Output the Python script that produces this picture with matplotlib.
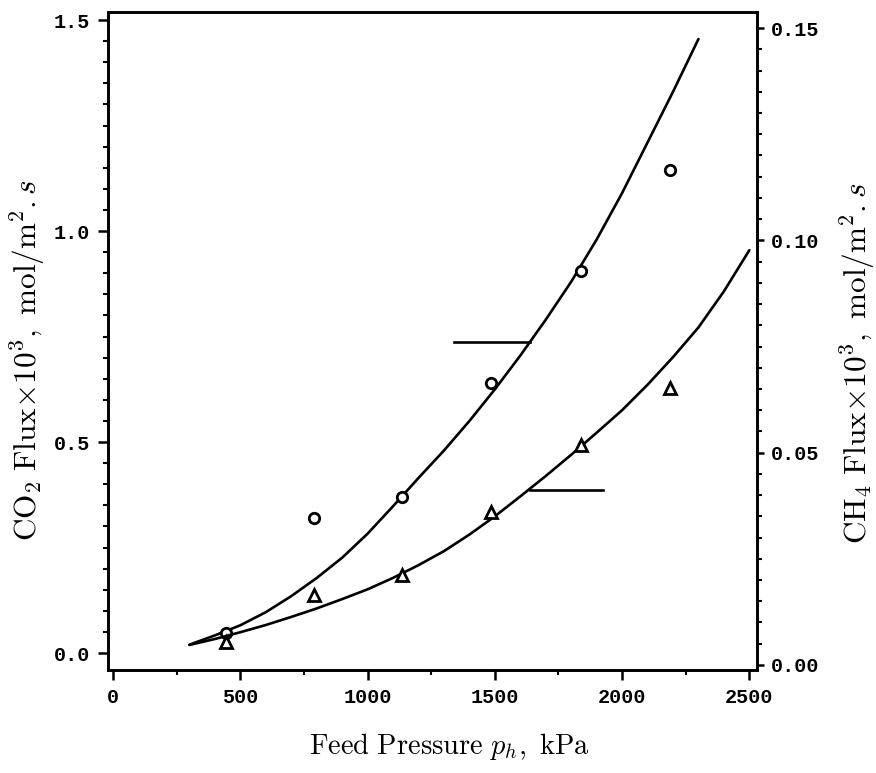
import matplotlib
matplotlib.use("Agg")
import matplotlib.pyplot as plt
from matplotlib.ticker import MultipleLocator, FormatStrFormatter

plt.rcParams['mathtext.fontset'] = 'cm'

# Measured data points
pressure = [445, 790, 1135, 1485, 1840, 2190]
co2_flux = [0.047, 0.32, 0.37, 0.64, 0.905, 1.145]
ch4_flux = [0.0054, 0.0165, 0.0212, 0.0360, 0.0518, 0.0652]

# Model curves
co2_curve_p = [300, 400, 500, 600, 700, 800, 900, 1000, 1100, 1200, 1300,
               1400, 1500, 1600, 1700, 1800, 1900, 2000, 2100, 2200, 2300]
co2_curve_f = [0.020, 0.042, 0.066, 0.097, 0.135, 0.178, 0.226, 0.283, 0.348,
               0.415, 0.480, 0.550, 0.625, 0.705, 0.790, 0.880, 0.980, 1.090,
               1.210, 1.330, 1.455]
ch4_curve_p = [300, 400, 500, 600, 700, 800, 900, 1000, 1100, 1200, 1300, 1400,
               1500, 1600, 1700, 1800, 1900, 2000, 2100, 2200, 2300, 2400, 2500]
ch4_curve_f = [0.0047, 0.0061, 0.0077, 0.0094, 0.0113, 0.0133, 0.0155, 0.0178,
               0.0205, 0.0235, 0.0268, 0.0307, 0.0350, 0.0397, 0.0445, 0.0495,
               0.0547, 0.0600, 0.0660, 0.0725, 0.0795, 0.0880, 0.0977]

# Indicator lines
co2_ind_x = [1338, 1637]
co2_ind_y = [0.737, 0.737]
ch4_ind_x = [1640, 1923]
ch4_ind_y = [0.0412, 0.0412]

W, H = 876, 773
fig = plt.figure(figsize=(W/100, H/100), dpi=100)
L, R, T, B = 108, 757, 12, 670
ax = fig.add_axes([L/W, 1-B/H, (R-L)/W, (B-T)/H])
ax2 = ax.twinx()

lw = 1.9
for a in (ax, ax2):
    for s in a.spines.values():
        s.set_linewidth(lw)

ax.plot(co2_curve_p, co2_curve_f, color='black', lw=lw, solid_capstyle='round',
        solid_joinstyle='round')
ax.plot(pressure, co2_flux, linestyle='none', marker='o', ms=7.5, mfc='white', mec='black', mew=2.0)
ax.plot(co2_ind_x, co2_ind_y, color='black', lw=lw)

ax2.plot(ch4_curve_p, ch4_curve_f, color='black', lw=lw, solid_capstyle='round',
         solid_joinstyle='round')
ax2.plot(pressure, ch4_flux, linestyle='none', marker='^', ms=8.5, mfc='white', mec='black', mew=2.0)
ax2.plot(ch4_ind_x, ch4_ind_y, color='black', lw=lw)

ax.set_xlim(-20, 2530)
ax.set_ylim(-0.040, 1.519)
ax2.set_ylim(-0.0012, 0.1538)

ax.xaxis.set_major_locator(MultipleLocator(500))
ax.xaxis.set_minor_locator(MultipleLocator(250))
ax.yaxis.set_major_locator(MultipleLocator(0.5))
ax.yaxis.set_minor_locator(MultipleLocator(0.05))
ax2.yaxis.set_major_locator(MultipleLocator(0.05))
ax2.yaxis.set_minor_locator(MultipleLocator(0.005))
ax.yaxis.set_major_formatter(FormatStrFormatter('%.1f'))
ax2.yaxis.set_major_formatter(FormatStrFormatter('%.2f'))

ax.tick_params(axis='both', which='major', direction='out', length=7, width=1.8, pad=6)
ax.tick_params(axis='both', which='minor', direction='out', length=3.5, width=1.5)
ax.tick_params(axis='y', which='both', right=False)
ax.tick_params(axis='x', which='both', top=False)
ax2.tick_params(axis='y', which='major', direction='out', length=5, width=1.8, pad=5)
ax2.tick_params(axis='y', which='minor', direction='out', length=3.5, width=1.5)
for lab in ax.get_xticklabels() + ax.get_yticklabels() + ax2.get_yticklabels():
    lab.set_fontfamily('Liberation Mono')
    lab.set_fontweight('bold')
    lab.set_fontsize(14.5)

ax.set_xlabel(r'$\mathrm{Feed\ Pressure\ }p_h\mathrm{,\ kPa}$', fontsize=20.5)
ax.set_ylabel(r'$\mathrm{CO_2\ Flux{\times}10^3,\ mol/m^2.}s$', fontsize=22.5)
ax2.set_ylabel(r'$\mathrm{CH_4\ Flux{\times}10^3,\ mol/m^2.}s$', fontsize=22.5)
ax.xaxis.set_label_coords((449 - L) / (R - L), -(746 - B) / (B - T), transform=ax.transAxes)
ax.xaxis.label.set_va('center')
ax.yaxis.set_label_coords(-(108 - 27) / (R - L), 1 - (360 - T) / (B - T), transform=ax.transAxes)
ax.yaxis.label.set_va('center')
ax2.yaxis.set_label_coords(1 + (857 - R) / (R - L), 1 - (363 - T) / (B - T), transform=ax2.transAxes)
ax2.yaxis.label.set_va('center')

fig.savefig('out.png', dpi=100, facecolor='white')
